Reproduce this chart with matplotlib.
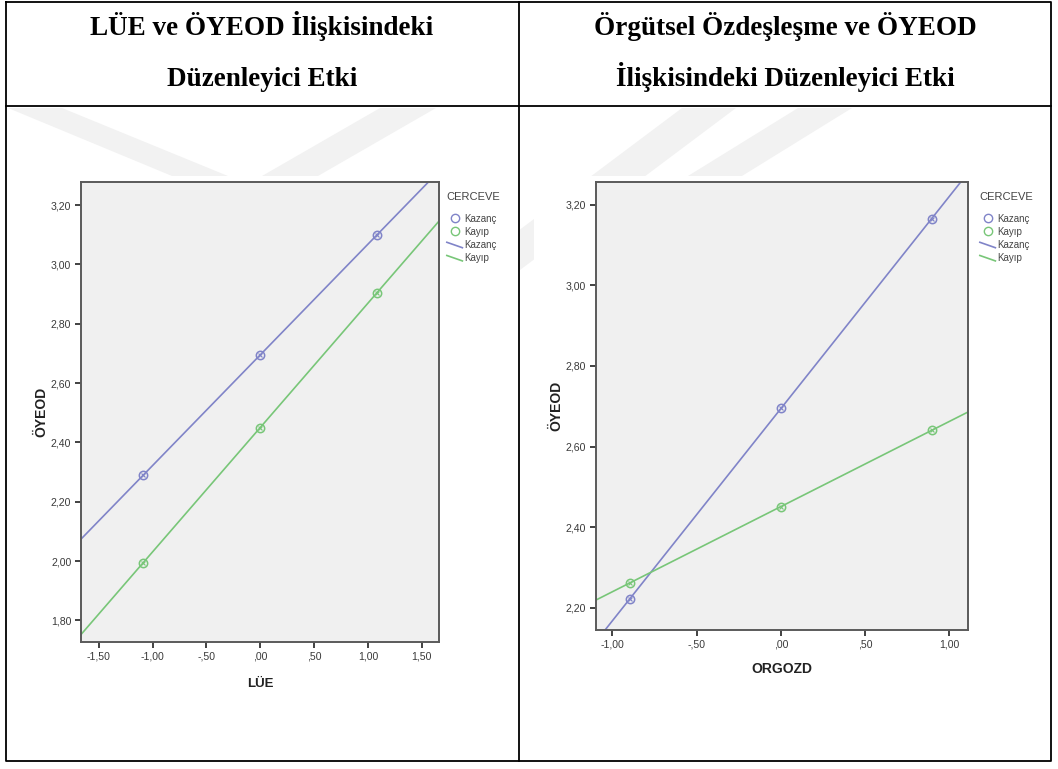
import numpy as np
import matplotlib.pyplot as plt
from matplotlib.lines import Line2D
from matplotlib.legend_handler import HandlerBase
from matplotlib.patches import Polygon, Rectangle

# --- data ---
group_names = ['Kazanç', 'Kayıp']
lue_x = [-1.085, 0.0, 1.085]
lue_kazanc = [2.29, 2.695, 3.10]
lue_kayip = [1.995, 2.45, 2.905]

orgozd_x = [-0.895, 0.0, 0.895]
orgozd_kazanc = [2.223, 2.695, 3.165]
orgozd_kayip = [2.262, 2.45, 2.64]

lue_xticks = [-1.5, -1.0, -0.5, 0.0, 0.5, 1.0, 1.5]
lue_xticklabels = ['-1,50', '-1,00', '-,50', ',00', ',50', '1,00', '1,50']
lue_yticks = [1.8, 2.0, 2.2, 2.4, 2.6, 2.8, 3.0, 3.2]
lue_yticklabels = ['1,80', '2,00', '2,20', '2,40', '2,60', '2,80', '3,00', '3,20']

org_xticks = [-1.0, -0.5, 0.0, 0.5, 1.0]
org_xticklabels = ['-1,00', '-,50', ',00', ',50', '1,00']
org_yticks = [2.2, 2.4, 2.6, 2.8, 3.0, 3.2]
org_yticklabels = ['2,20', '2,40', '2,60', '2,80', '3,00', '3,20']

header_left = ['LÜE ve ÖYEOD İlişkisindeki', 'Düzenleyici Etki']
header_right = ['Örgütsel Özdeşleşme ve ÖYEOD', 'İlişkisindeki Düzenleyici Etki']

blue = '#8084c8'
green = '#78c678'
W, H = 1058, 769

fig = plt.figure(figsize=(W / 100, H / 100), dpi=100)

# page layer in pixel coords (table, watermark, headers)
page = fig.add_axes([0, 0, 1, 1], zorder=0)
page.set_xlim(0, W)
page.set_ylim(H, 0)
page.axis('off')

# faint watermark bands behind the charts
wm = '#f2f2f2'
for pts in [[(8, 108), (62, 108), (228, 176), (172, 176)],
            [(380, 108), (436, 108), (318, 176), (262, 176)],
            [(682, 108), (736, 108), (480, 300), (426, 300)],
            [(798, 108), (852, 108), (742, 176), (688, 176)]]:
    page.add_patch(Polygon(pts, closed=True, color=wm, lw=0))

# white chart images on top of the watermark
page.add_patch(Rectangle((18, 176), 500, 524, color='white', lw=0))
page.add_patch(Rectangle((534, 176), 511, 524, color='white', lw=0))

lk = dict(color='black', lw=1.3)
page.plot([6, 1051, 1051, 6, 6], [2, 2, 761, 761, 2], **lk)
page.plot([6, 1051], [106, 106], **lk)
page.plot([519, 519], [2, 761], **lk)

hfont = dict(family='Liberation Serif', weight='bold', size=19.5, ha='center', va='baseline')
for i, yb in enumerate([35, 86]):
    page.text(262, yb, header_left[i], **hfont)
    page.text(785, yb, header_right[i], **hfont)


class SlantHandler(HandlerBase):
    def create_artists(self, legend, orig_handle, xdescent, ydescent, width, height, fontsize, trans):
        ln = Line2D([-xdescent, -xdescent + width], [height * 0.85, height * 0.05],
                    color=orig_handle.get_color(), lw=1.2, transform=trans)
        return [ln]


def draw_panel(rect, x, kaz, kay, xlim, ylim, xt, xtl, yt, ytl, xlabel, xlab_size, xpad, leg_xy):
    ax = fig.add_axes(rect, zorder=2)
    ax.set_facecolor('#f0f0f0')
    for s in ax.spines.values():
        s.set_color('#5a5a5a')
        s.set_linewidth(1.4)
    for ys, c in [(kaz, blue), (kay, green)]:
        ax.axline((x[0], ys[0]), (x[-1], ys[-1]), color=c, lw=1.2)
        ax.plot(x, ys, ls='none', marker='o', ms=6, mfc='none', mec=c, mew=1.1)
        ax.plot(x, ys, ls='none', marker='x', ms=3, mec=c, mew=0.8)
    ax.set_xlim(*xlim)
    ax.set_ylim(*ylim)
    ax.set_xticks(xt)
    ax.set_xticklabels(xtl)
    ax.set_yticks(yt)
    ax.set_yticklabels(ytl)
    ax.tick_params(direction='out', length=4, width=1.3, color='#333333',
                   labelsize=7.6, labelcolor='#3a3a3a', pad=3)
    for lbl in ax.get_xticklabels() + ax.get_yticklabels():
        lbl.set_family('Liberation Sans')
    ax.set_xlabel(xlabel, family='Liberation Sans', weight='bold', size=xlab_size,
                  color='#222222', labelpad=xpad)
    ax.set_ylabel('ÖYEOD', family='Liberation Sans', weight='bold', size=10,
                  color='#222222', labelpad=1.5)

    handles = [Line2D([], [], ls='none', marker='o', ms=6, mfc='none', mec=blue, mew=1),
               Line2D([], [], ls='none', marker='o', ms=6, mfc='none', mec=green, mew=1),
               Line2D([], [], color=blue),
               Line2D([], [], color=green)]
    labels = group_names + group_names
    leg = ax.legend(handles, labels, title='CERCEVE', loc='upper left',
                    bbox_to_anchor=(leg_xy[0] / W, 1 - leg_xy[1] / H),
                    bbox_transform=fig.transFigure, frameon=False,
                    prop={'family': 'Liberation Sans', 'size': 7},
                    title_fontproperties={'family': 'Liberation Sans', 'size': 8},
                    handlelength=1.6, handletextpad=0.15, labelspacing=0.33,
                    borderpad=0.6, borderaxespad=0,
                    handler_map={handles[2]: SlantHandler(), handles[3]: SlantHandler()})
    leg._legend_box.align = 'left'
    leg._legend_box.sep = 8.5
    for t in leg.get_texts():
        t.set_color('#444444')
    leg.get_title().set_color('#444444')
    return ax


ax1 = draw_panel([81 / W, 1 - 642 / H, 358 / W, 460 / H], lue_x, lue_kazanc, lue_kayip,
                 (-1.664, 1.66), (1.727, 3.278), lue_xticks, lue_xticklabels,
                 lue_yticks, lue_yticklabels, 'LÜE', 9.5, 11.5, (441, 186))
ax2 = draw_panel([596 / W, 1 - 630 / H, 372 / W, 448 / H], orgozd_x, orgozd_kazanc, orgozd_kayip,
                 (-1.097, 1.111), (2.145, 3.256), org_xticks, org_xticklabels,
                 org_yticks, org_yticklabels, 'ORGOZD', 10, 9, (974, 186))

fig.savefig('out.png', dpi=100, facecolor='white')
